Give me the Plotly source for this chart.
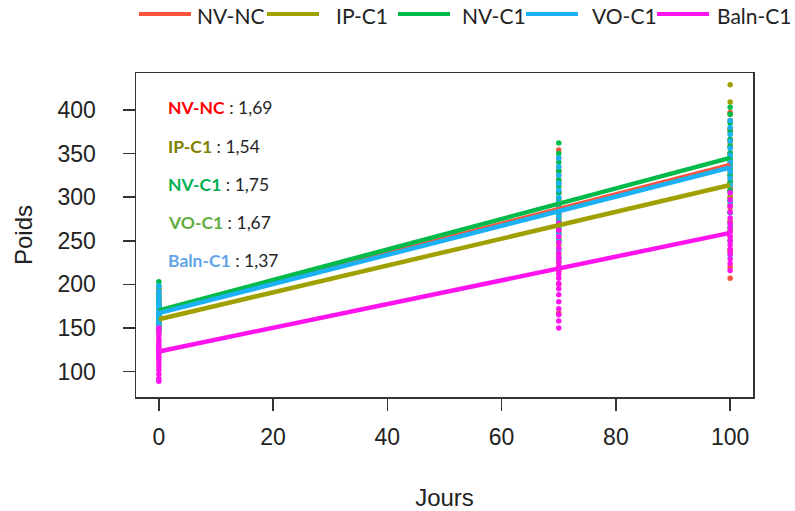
import plotly.graph_objects as go

# ---------------- data ----------------
groups = ["NV-NC", "IP-C1", "NV-C1", "VO-C1", "Baln-C1"]
colors = ["#F8553C", "#A0A000", "#00BA4A", "#1AB2F5", "#FF14F0"]
days = [0, 70, 100]

# observed weights (Poids) per group and day
nvnc_d0 = [195, 190, 186, 182, 179, 176, 173, 171, 169, 167, 165, 163, 160, 157, 154, 150]
ip_d0 = [185, 178, 172, 168, 165, 162, 160, 158, 156, 154, 152, 150, 148, 145]
nvc1_d0 = [203, 198, 193, 188, 184, 180, 177, 174, 171, 169, 167, 165, 162, 158, 154, 150]
vo_d0 = [198, 192, 187, 182, 178, 175, 172, 169, 167, 165, 163, 160, 157, 153, 148]
baln_d0 = [150, 146, 142, 138, 135, 132, 129, 126, 124, 122, 120, 117, 114, 110, 106, 102, 97, 92, 89]

nvnc_d70 = [354, 345, 335, 325, 315, 305, 298, 292, 287, 282, 276, 270, 262, 252, 240, 228, 215, 200, 167]
ip_d70 = [330, 318, 305, 295, 287, 280, 274, 268, 263, 258, 252, 246, 240, 233, 225]
nvc1_d70 = [362, 350, 340, 330, 320, 312, 305, 299, 294, 289, 284, 278, 272, 265, 258, 250]
vo_d70 = [345, 335, 325, 316, 308, 300, 294, 288, 283, 278, 272, 265, 258, 250, 240, 230]
baln_d70 = [270, 262, 255, 248, 242, 236, 231, 226, 221, 217, 212, 207, 201, 195, 188, 180, 172, 165, 158, 150]

nvnc_d100 = [397, 388, 378, 366, 358, 350, 343, 337, 330, 322, 312, 300, 288, 272, 255, 238, 220, 207]
ip_d100 = [429, 409, 395, 378, 362, 348, 335, 325, 316, 308, 300, 292, 283, 272, 262, 250, 240]
nvc1_d100 = [403, 395, 385, 375, 366, 358, 351, 345, 339, 333, 326, 318, 308, 296, 282, 265]
vo_d100 = [388, 380, 372, 364, 356, 348, 341, 335, 329, 322, 314, 305, 295, 282, 268, 250, 233]
baln_d100 = [305, 297, 290, 283, 276, 270, 265, 260, 255, 250, 245, 240, 235, 229, 224, 216]

obs = {
    "NV-NC": [nvnc_d0, nvnc_d70, nvnc_d100],
    "IP-C1": [ip_d0, ip_d70, ip_d100],
    "NV-C1": [nvc1_d0, nvc1_d70, nvc1_d100],
    "VO-C1": [vo_d0, vo_d70, vo_d100],
    "Baln-C1": [baln_d0, baln_d70, baln_d100],
}

# fitted lines: value at day 0 and day 100
line_days = [0, 100]
line_start = [168, 160, 170, 167, 123]
line_end = [337, 314, 345, 334, 259]

# daily gains shown in the plot
gain_labels = ["NV-NC", "IP-C1", "NV-C1", "VO-C1", "Baln-C1"]
gain_values = ["1,69", "1,54", "1,75", "1,67", "1,37"]
gain_colors = ["#FF0000", "#808000", "#00B050", "#5FAE3E", "#62A5E8"]

x_ticks = [0, 20, 40, 60, 80, 100]
y_ticks = [100, 150, 200, 250, 300, 350, 400]

# ---------------- figure ----------------
W, H = 795, 511
ML, MT, MR, MB = 136, 73, 42, 114
PW, PH = W - ML - MR, H - MT - MB


def px_x(px):
    return (px - ML) / PW


def px_y(py):
    return (MT + PH - py) / PH


fig = go.Figure()

for g, c in zip(groups, colors):
    xs, ys = [], []
    for d, vals in zip(days, obs[g]):
        xs += [d] * len(vals)
        ys += vals
    fig.add_trace(go.Scatter(x=xs, y=ys, mode="markers", name=g, showlegend=False,
                             marker=dict(color=c, size=5.5, line=dict(width=0))))

for g, c, s, e in zip(groups, colors, line_start, line_end):
    fig.add_trace(go.Scatter(x=line_days, y=[s, e], mode="lines", name=g, showlegend=False,
                             line=dict(color=c, width=4.5)))

# manual legend (R style, top)
leg_line_x0 = [139, 267, 398, 526, 657]
leg_text_x = [195, 334, 460, 590, 715]
leg_y = 14
for g, c, lx, tx in zip(groups, colors, leg_line_x0, leg_text_x):
    fig.add_shape(type="line", xref="paper", yref="paper",
                  x0=px_x(lx), x1=px_x(lx + 52), y0=px_y(leg_y), y1=px_y(leg_y),
                  line=dict(color=c, width=4))
    fig.add_annotation(xref="paper", yref="paper", x=px_x(tx), y=px_y(leg_y + 1),
                       text=g, showarrow=False, xanchor="left", yanchor="middle",
                       font=dict(family="Lato", size=21, color="#222222"))

# gain annotations
ann_y = [107, 146, 184, 222, 260]
for lab, val, col, yy in zip(gain_labels, gain_values, gain_colors, ann_y):
    fig.add_annotation(xref="paper", yref="paper", x=px_x(166), y=px_y(yy),
                       text=f"<b><span style='color:{col}'>{lab}</span></b> : {val}",
                       showarrow=False, xanchor="left", yanchor="middle",
                       font=dict(family="Lato", size=17.5, color="#262626"))

axis_common = dict(showline=True, mirror=True, linecolor="#333333", linewidth=1.5,
                   ticks="outside", ticklen=12, tickwidth=1.5, tickcolor="#333333",
                   showgrid=False, zeroline=False, automargin=False,
                   tickfont=dict(family="Liberation Sans", size=23, color="#222222"))

fig.update_xaxes(range=[-4, 104], tickvals=x_ticks, ticktext=[str(v) for v in x_ticks],
                 ticklabelstandoff=7,
                 title=dict(text="Jours", standoff=40,
                            font=dict(family="Liberation Sans", size=24, color="#222222")),
                 **axis_common)
fig.update_yaxes(range=[70.8, 442.4], tickvals=y_ticks, ticktext=[str(v) for v in y_ticks],
                 ticklabelstandoff=22,
                 title=dict(text="Poids", standoff=18,
                            font=dict(family="Liberation Sans", size=24, color="#222222")),
                 **axis_common)

fig.update_layout(width=W, height=H, margin=dict(l=ML, r=MR, t=MT, b=MB),
                  plot_bgcolor="white", paper_bgcolor="white", showlegend=False,
                  hovermode=False)

fig.write_html("out.html", config={"displayModeBar": False, "staticPlot": True},
               post_script="document.body.style.margin='0';document.body.style.overflow='hidden';")
